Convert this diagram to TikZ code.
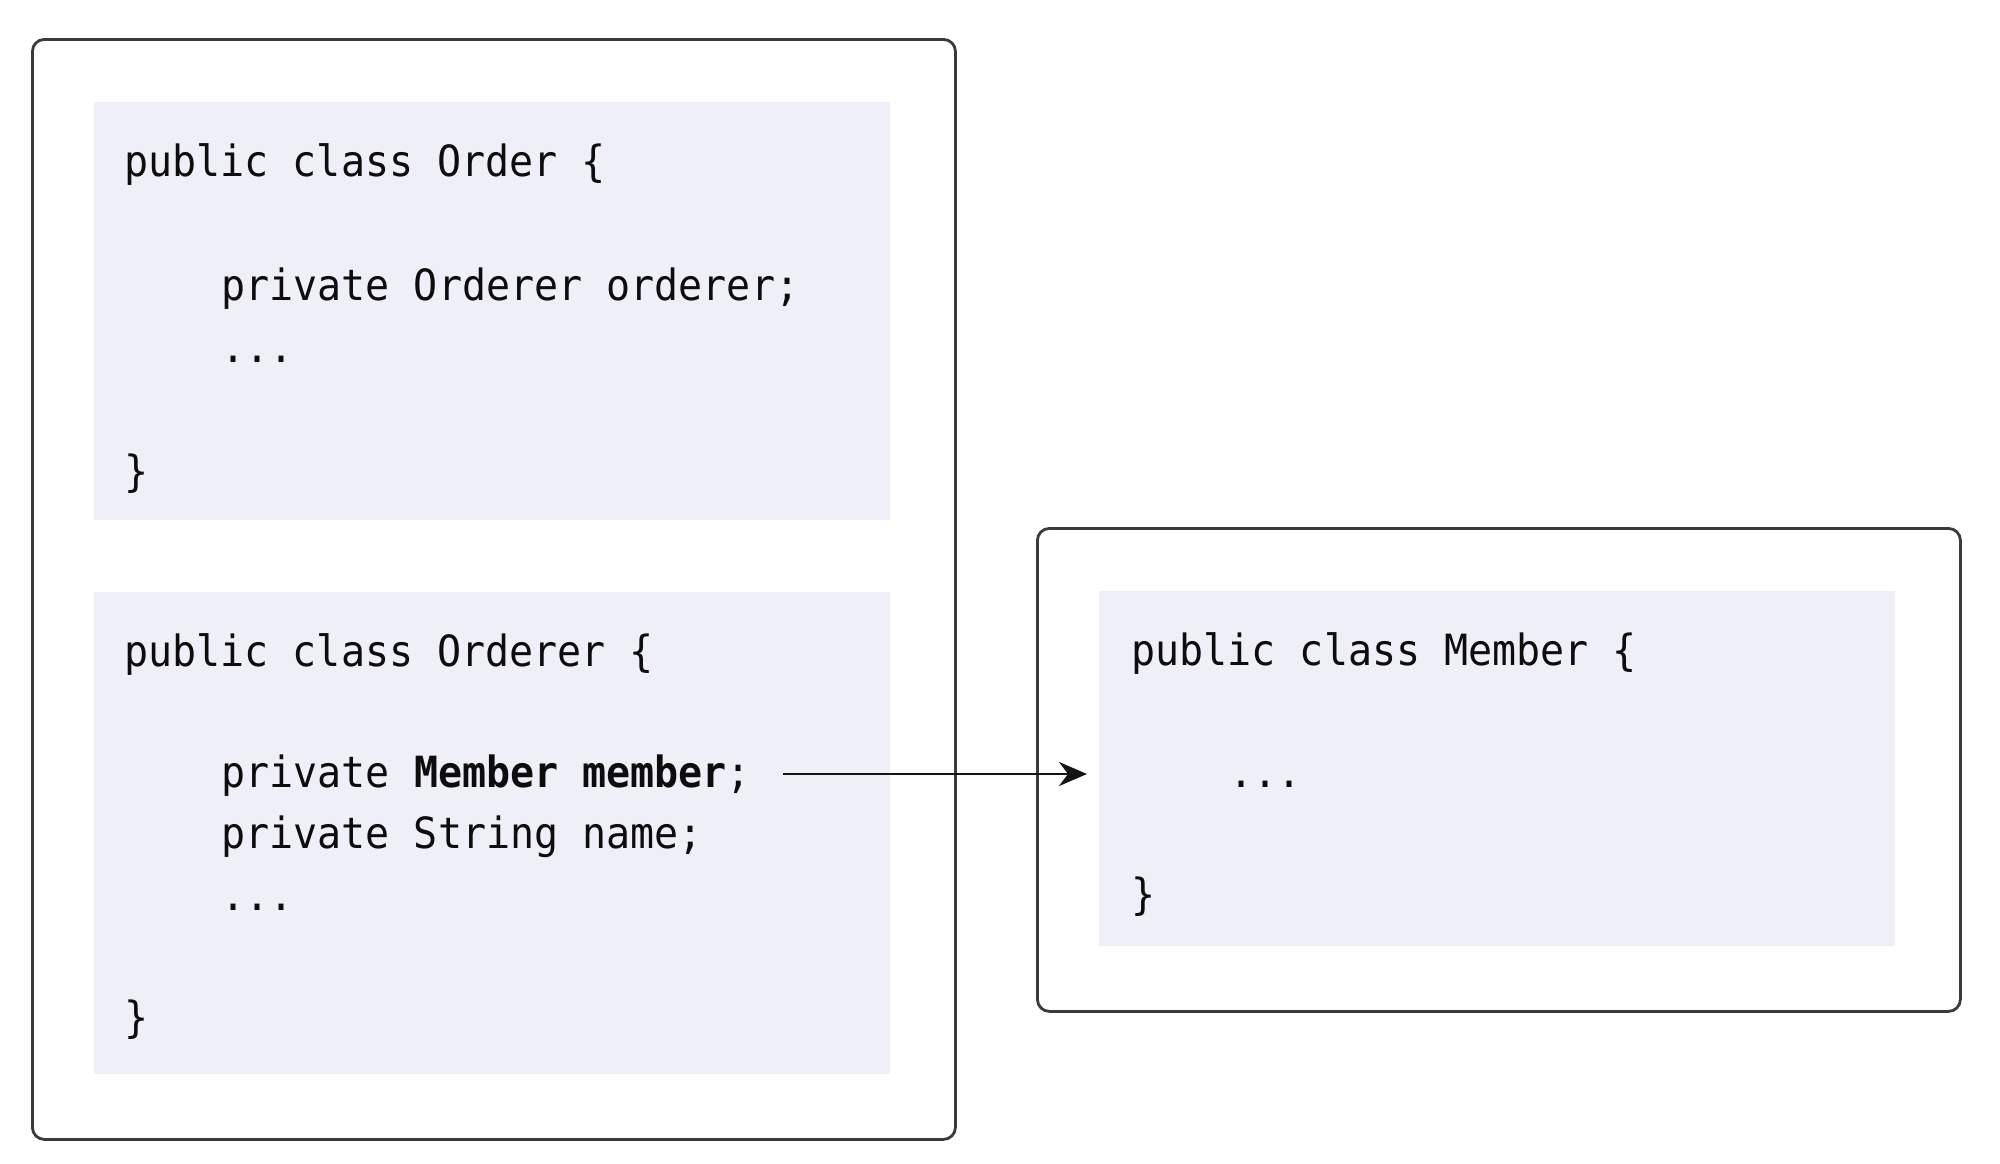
\documentclass[tikz,border=0pt]{standalone}
\usepackage{fontspec}
\newfontfamily\codefont[FakeStretch=0.93]{DejaVu Sans Mono}
\usetikzlibrary{arrows.meta}
\definecolor{codebg}{HTML}{EFEFF7}
\definecolor{framec}{HTML}{3A3A3A}
\begin{document}
\begin{tikzpicture}[x=0.5pt,y=-0.5pt,
  outerbox/.style={draw=framec, line width=1.4pt, rounded corners=6pt, fill=white, inner sep=0pt, anchor=north west},
  codebox/.style={fill=codebg, draw=none, inner sep=0pt, anchor=north west, minimum width=398pt},
  code/.style={font=\codefont\fontsize{21.5pt}{26pt}\selectfont, inner sep=0pt, anchor=base west, text=black!95},
  link/.style={-{Stealth[length=14pt,width=12pt,inset=4.5pt]}, line width=1.4pt, draw=black!92}]
\useasboundingbox (0,0) rectangle (2000,1163);
% outer frames
\node[outerbox, minimum width=461.5pt, minimum height=550pt] (left) at (31,38) {};
\node[outerbox, minimum width=461.5pt, minimum height=241.5pt] (right) at (1036,527) {};
% code areas
\node[codebox, minimum height=209pt] (code1) at (94,102) {};
\node[codebox, minimum height=241pt] (code2) at (94,592) {};
\node[codebox, minimum height=177.5pt] (code3) at (1099,591) {};
% class Order
\node[code] (o1) at (124,176) {public class Order \{};
\node[code] (o2) at (221,300) {private Orderer orderer;};
\node[code] (o3) at (221,362) {...};
\node[code] (o4) at (124,486) {\}};
% class Orderer
\node[code] (r1) at (124,666) {public class Orderer \{};
\node[code] (r2) at (221,787) {private \textbf{Member member};};
\node[code] (r3) at (221,848) {private String name;};
\node[code] (r4) at (221,910) {...};
\node[code] (r5) at (124,1032) {\}};
% class Member
\node[code] (m1) at (1131,665) {public class Member \{};
\node[code] (m2) at (1229,787) {...};
\node[code] (m3) at (1131,909) {\}};
% reference arrow
\coordinate (arrS) at (783,774);
\draw[link, shorten >=6pt] (arrS) -- (arrS -| code3.west);
\end{tikzpicture}
\end{document}
